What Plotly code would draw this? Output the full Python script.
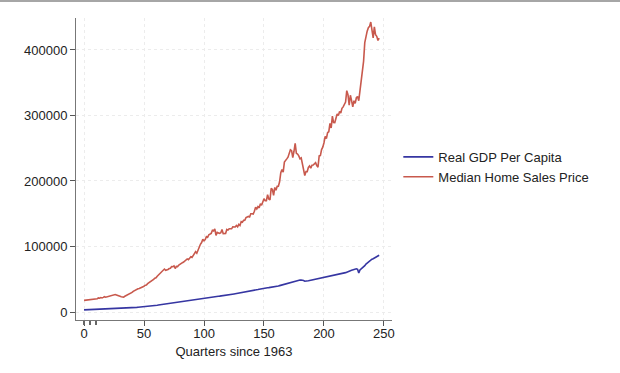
import plotly.graph_objects as go

# Nominal-ish GDP per capita (labelled "Real GDP Per Capita" in the source), quarterly from 1963Q1
gdp_per_capita = [
    3300, 3350, 3400, 3450,
    3490, 3545, 3600, 3660,
    3720, 3790, 3860, 3940,
    4050, 4115, 4175, 4240,
    4230, 4300, 4370, 4450,
    4580, 4660, 4740, 4810,
    4940, 5000, 5065, 5120,
    5130, 5200, 5270, 5330,
    5450, 5560, 5660, 5770,
    5890, 6030, 6170, 6300,
    6520, 6660, 6800, 6930,
    7020, 7160, 7290, 7420,
    7540, 7720, 7890, 8060,
    8290, 8490, 8690, 8890,
    9080, 9330, 9580, 9830,
    10150, 10430, 10700, 10980,
    11300, 11550, 11800, 12050,
    12130, 12350, 12720, 13100,
    13600, 13900, 14150, 14250,
    14200, 14350, 14500, 14680,
    15000, 15350, 15730, 16100,
    16620, 16950, 17300, 17620,
    17880, 18120, 18360, 18600,
    18740, 18960, 19190, 19400,
    19580, 19890, 20190, 20490,
    20890, 21240, 21590, 21950,
    22370, 22700, 23020, 23340,
    23590, 23800, 23990, 24120,
    24080, 24250, 24430, 24600,
    25050, 25300, 25550, 25790,
    25980, 26250, 26530, 26800,
    27240, 27550, 27850, 28150,
    28280, 28550, 28830, 29100,
    29440, 29790, 30140, 30490,
    30910, 31270, 31640, 32000,
    32290, 32660, 33040, 33410,
    33860, 34300, 34740, 35180,
    35840, 36160, 36490, 36810,
    36800, 37020, 37240, 37460,
    37480, 37830, 38180, 38520,
    38700, 39220, 39760, 40290,
    40830, 41420, 42030, 42620,
    43260, 43840, 44420, 44990,
    45590, 46070, 46540, 47010,
    47450, 47850, 48260, 48660,
    48700, 48850, 48700, 48030,
    47000, 46900, 47150, 47710,
    48100, 48460, 48850, 49200,
    49510, 49880, 50260, 50600,
    51300, 51650, 51920, 52250,
    52700, 53020, 53450, 53970,
    54300, 54900, 55420, 55870,
    56300, 56650, 56920, 57200,
    57400, 57700, 58000, 58350,
    59100, 59600, 60100, 60850,
    61900, 62600, 63100, 63700,
    64300, 64900, 65400, 65900,
    65200, 59600, 64300, 65700,
    67600, 69300, 70800, 73200,
    74800, 76500, 78200, 79500,
    80600, 81400, 82400, 83300,
    84200, 85500, 86700,
]

# Median home sales price, quarterly from 1963Q1
home_price = [
    17800, 18000, 17900, 18500,
    18500, 18900, 18900, 19400,
    20200, 19800, 20200, 20200,
    21500, 21000, 22100, 21500,
    22300, 23300, 22500, 22900,
    23900, 24700, 25100, 25600,
    25600, 26400, 26600, 26000,
    24900, 24700, 23900, 23200,
    23100, 22800, 24000, 24800,
    25900, 26700, 27600, 28300,
    29900, 31600, 32800, 33300,
    34900, 35500, 36000, 36600,
    37300, 38400, 39300, 40900,
    41200, 43200, 44300, 45700,
    46500, 48000, 49900, 51700,
    52300, 54700, 56600, 58800,
    60600, 61800, 63400, 65600,
    63700, 64000, 64900, 66400,
    66800, 69400, 69200, 70400,
    66400, 69600, 69300, 71600,
    73300, 74600, 75300, 76200,
    78200, 80700, 81000, 79900,
    82800, 84300, 83200, 86800,
    88000, 92100, 89800, 95000,
    97900, 103400, 106000, 111100,
    108600, 110500, 115000, 113900,
    118000, 118900, 120000, 124800,
    123900, 126800, 117000, 121500,
    120000, 119900, 121000, 126000,
    119500, 120000, 120000, 126000,
    125000, 127000, 127000, 127000,
    130000, 130000, 129700, 132000,
    130000, 133900, 132000, 138000,
    137000, 139900, 140000, 144100,
    145000, 145800, 145000, 150000,
    150000, 149500, 153700, 160000,
    157400, 161000, 159000, 165300,
    163000, 168800, 172900, 169800,
    169800, 179000, 172500, 171100,
    188700, 187200, 178100, 190100,
    186000, 191800, 191900, 198800,
    212700, 217600, 213500, 228800,
    232500, 233700, 236400, 243600,
    247700, 246300, 235600, 245400,
    257400, 242200, 241000, 238400,
    233900, 235300, 226500, 222500,
    208400, 214300, 214200, 220700,
    222900, 219500, 224100, 224300,
    226900, 228100, 223500, 221100,
    238400, 238700, 248000, 251700,
    258400, 268100, 264800, 273600,
    275200, 288000, 281000, 298900,
    289200, 289100, 295800, 302500,
    299800, 306000, 303800, 310900,
    313100, 318200, 320500, 337900,
    331800, 315600, 330900, 322800,
    313000, 322500, 318400, 327100,
    329000, 322600, 337500, 358700,
    369800, 382600, 411200, 423600,
    428700, 434000, 436000, 442600,
    429000, 418500, 435400, 423200,
    420800, 414500, 418000,
]

quarters = list(range(len(home_price)))
x_tick_values = [0, 50, 100, 150, 200, 250]
y_tick_values = [0, 100000, 200000, 300000, 400000]
small_tick_values = [0, 5, 10]

FONT = "Liberation Sans, Arial, Helvetica, sans-serif"
BLUE = "#3636a2"
RED = "#c8594d"

fig = go.Figure()
fig.add_trace(go.Scatter(
    x=quarters, y=gdp_per_capita, mode="lines", name="Real GDP Per Capita",
    line=dict(color=BLUE, width=1.6),
))
fig.add_trace(go.Scatter(
    x=quarters, y=home_price, mode="lines", name="Median Home Sales Price",
    line=dict(color=RED, width=1.6),
))

fig.update_layout(
    width=620, height=373,
    margin=dict(l=76, r=228, t=18, b=53),
    paper_bgcolor="white", plot_bgcolor="white",
    font=dict(family=FONT, size=13, color="#222222"),
    showlegend=True,
    legend=dict(
        x=1.02, y=0.507, xanchor="left", yanchor="middle",
        font=dict(family=FONT, size=13, color="#222222"),
        bgcolor="rgba(0,0,0,0)", borderwidth=0,
        tracegroupgap=0, itemwidth=30,
    ),
    xaxis=dict(
        range=[-6.7, 256.7], tickvals=x_tick_values,
        ticks="outside", ticklen=5, tickcolor="#555555", tickwidth=1,
        ticklabelstandoff=-4,
        showline=True, linecolor="#777777", linewidth=1,
        showgrid=True, gridcolor="#ececec", griddash="dot", gridwidth=1,
        zeroline=False,
        title=dict(text="Quarters since 1963", font=dict(size=13), standoff=7),
        tickfont=dict(size=13),
    ),
    xaxis2=dict(
        overlaying="x", matches="x", side="bottom", anchor="y",
        tickvals=small_tick_values, ticks="outside", ticklen=4,
        tickcolor="#666666", tickwidth=2, showticklabels=False,
        showgrid=False, zeroline=False, showline=False,
    ),
    yaxis=dict(
        range=[-12200, 448800], tickvals=y_tick_values,
        tickformat="d",
        ticks="outside", ticklen=5, tickcolor="#555555", tickwidth=1,
        showline=True, linecolor="#777777", linewidth=1,
        showgrid=True, gridcolor="#ececec", griddash="dot", gridwidth=1,
        zeroline=False, tickfont=dict(size=13),
    ),
    shapes=[dict(
        type="line", xref="paper", yref="paper",
        x0=-0.2405, x1=1.7215, y0=1.0563, y1=1.0563,
        line=dict(color="#a6a6a6", width=2),
    )],
)

# invisible helper trace to bring the secondary x-axis (small ticks) into view
fig.add_trace(go.Scatter(x=[quarters[0]], y=[home_price[0]], xaxis="x2",
                         mode="markers", marker=dict(opacity=0), showlegend=False,
                         hoverinfo="skip"))

fig.write_html(
    "out.html",
    config={"displayModeBar": False},
    post_script="document.body.style.margin='0px';document.body.style.overflow='hidden';",
)
